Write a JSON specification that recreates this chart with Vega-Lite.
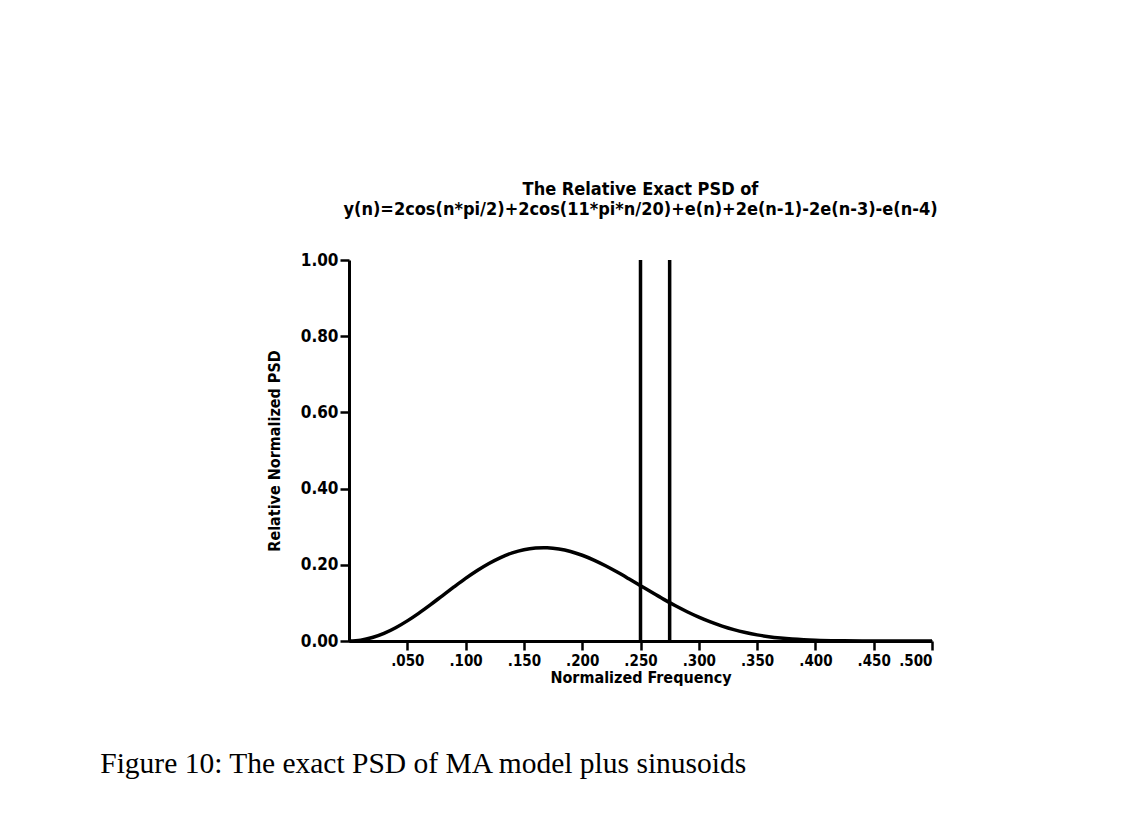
{
  "$schema": "https://vega.github.io/schema/vega-lite/v6.json",
  "background": "white",
  "autosize": {"type": "pad"},
  "padding": {"left": 100, "top": 181, "right": 10, "bottom": 10},
  "title": {
    "text": "Figure 10: The exact PSD of MA model plus sinusoids",
    "orient": "bottom",
    "anchor": "start",
    "frame": "bounds",
    "font": "Liberation Serif",
    "fontSize": 29.5,
    "fontWeight": "normal",
    "color": "black",
    "offset": 65,
    "dx": -166
  },
  "datasets": {
    "curve": [
      {"f": 0.0, "psd": 0.0},
      {"f": 0.01, "psd": 0.0023},
      {"f": 0.02, "psd": 0.0091},
      {"f": 0.03, "psd": 0.0200},
      {"f": 0.04, "psd": 0.0348},
      {"f": 0.05, "psd": 0.0528},
      {"f": 0.06, "psd": 0.0733},
      {"f": 0.07, "psd": 0.0955},
      {"f": 0.08, "psd": 0.1187},
      {"f": 0.09, "psd": 0.1418},
      {"f": 0.10, "psd": 0.1642},
      {"f": 0.11, "psd": 0.1849},
      {"f": 0.12, "psd": 0.2034},
      {"f": 0.13, "psd": 0.2190},
      {"f": 0.14, "psd": 0.2311},
      {"f": 0.15, "psd": 0.2396},
      {"f": 0.16, "psd": 0.2441},
      {"f": 0.167, "psd": 0.2450},
      {"f": 0.17, "psd": 0.2448},
      {"f": 0.18, "psd": 0.2416},
      {"f": 0.19, "psd": 0.2350},
      {"f": 0.20, "psd": 0.2251},
      {"f": 0.21, "psd": 0.2124},
      {"f": 0.22, "psd": 0.1975},
      {"f": 0.23, "psd": 0.1810},
      {"f": 0.24, "psd": 0.1633},
      {"f": 0.25, "psd": 0.1452},
      {"f": 0.26, "psd": 0.1270},
      {"f": 0.27, "psd": 0.1093},
      {"f": 0.28, "psd": 0.0925},
      {"f": 0.29, "psd": 0.0769},
      {"f": 0.30, "psd": 0.0627},
      {"f": 0.31, "psd": 0.0501},
      {"f": 0.32, "psd": 0.0392},
      {"f": 0.33, "psd": 0.0299},
      {"f": 0.34, "psd": 0.0223},
      {"f": 0.35, "psd": 0.0161},
      {"f": 0.36, "psd": 0.0113},
      {"f": 0.37, "psd": 0.0077},
      {"f": 0.38, "psd": 0.0050},
      {"f": 0.39, "psd": 0.0031},
      {"f": 0.40, "psd": 0.0018},
      {"f": 0.42, "psd": 0.0005},
      {"f": 0.44, "psd": 0.0001},
      {"f": 0.46, "psd": 0.0},
      {"f": 0.48, "psd": 0.0},
      {"f": 0.50, "psd": 0.0}
    ],
    "tones": [
      {"f": 0.25, "bottom": 0, "top": 1},
      {"f": 0.275, "bottom": 0, "top": 1}
    ]
  },
  "vconcat": [
    {
      "width": 583,
      "height": 381,
      "title": {
        "text": ["The Relative Exact PSD of", "y(n)=2cos(n*pi/2)+2cos(11*pi*n/20)+e(n)+2e(n-1)-2e(n-3)-e(n-4)"],
        "anchor": "middle",
        "frame": "group",
        "font": "DejaVu Sans Condensed, DejaVu Sans, sans-serif",
        "fontSize": 18,
        "fontWeight": "bold",
        "lineHeight": 20,
        "color": "black",
        "offset": 32
      },
      "layer": [
        {
          "data": {"name": "curve"},
          "mark": {"type": "line", "color": "black", "strokeWidth": 3.5, "interpolate": "monotone"},
          "encoding": {
            "x": {
              "field": "f",
              "type": "quantitative",
              "scale": {"domain": [0, 0.5], "nice": false, "zero": false},
              "axis": {
                "values": [0.05, 0.1, 0.15, 0.2, 0.25, 0.3, 0.35, 0.4, 0.45, 0.5],
                "labelExpr": "substring(format(datum.value, '.3f'), 1)",
                "labelFontSize": 15,
                "title": "Normalized Frequency",
                "titlePadding": 1,
                "labelPadding": 3
              }
            },
            "y": {
              "field": "psd",
              "type": "quantitative",
              "scale": {"domain": [0, 1], "nice": false},
              "axis": {
                "values": [0, 0.2, 0.4, 0.6, 0.8, 1.0],
                "format": ".2f",
                "title": "Relative Normalized PSD",
                "titlePadding": 18,
                "labelPadding": 2
              }
            }
          }
        },
        {
          "data": {"name": "tones"},
          "mark": {"type": "rule", "color": "black", "strokeWidth": 3.5},
          "encoding": {
            "x": {"field": "f", "type": "quantitative"},
            "y": {"field": "bottom", "type": "quantitative"},
            "y2": {"field": "top"}
          }
        }
      ]
    }
  ],
  "config": {
    "view": {"stroke": null},
    "axis": {
      "grid": false,
      "domainColor": "black",
      "domainWidth": 3,
      "tickColor": "black",
      "tickWidth": 2.5,
      "tickSize": 9,
      "labelColor": "black",
      "labelFont": "DejaVu Sans Condensed, DejaVu Sans, sans-serif",
      "labelFontSize": 17,
      "labelFontWeight": "bold",
      "titleColor": "black",
      "titleFont": "DejaVu Sans Condensed, DejaVu Sans, sans-serif",
      "titleFontSize": 16,
      "titleFontWeight": "bold"
    }
  }
}
